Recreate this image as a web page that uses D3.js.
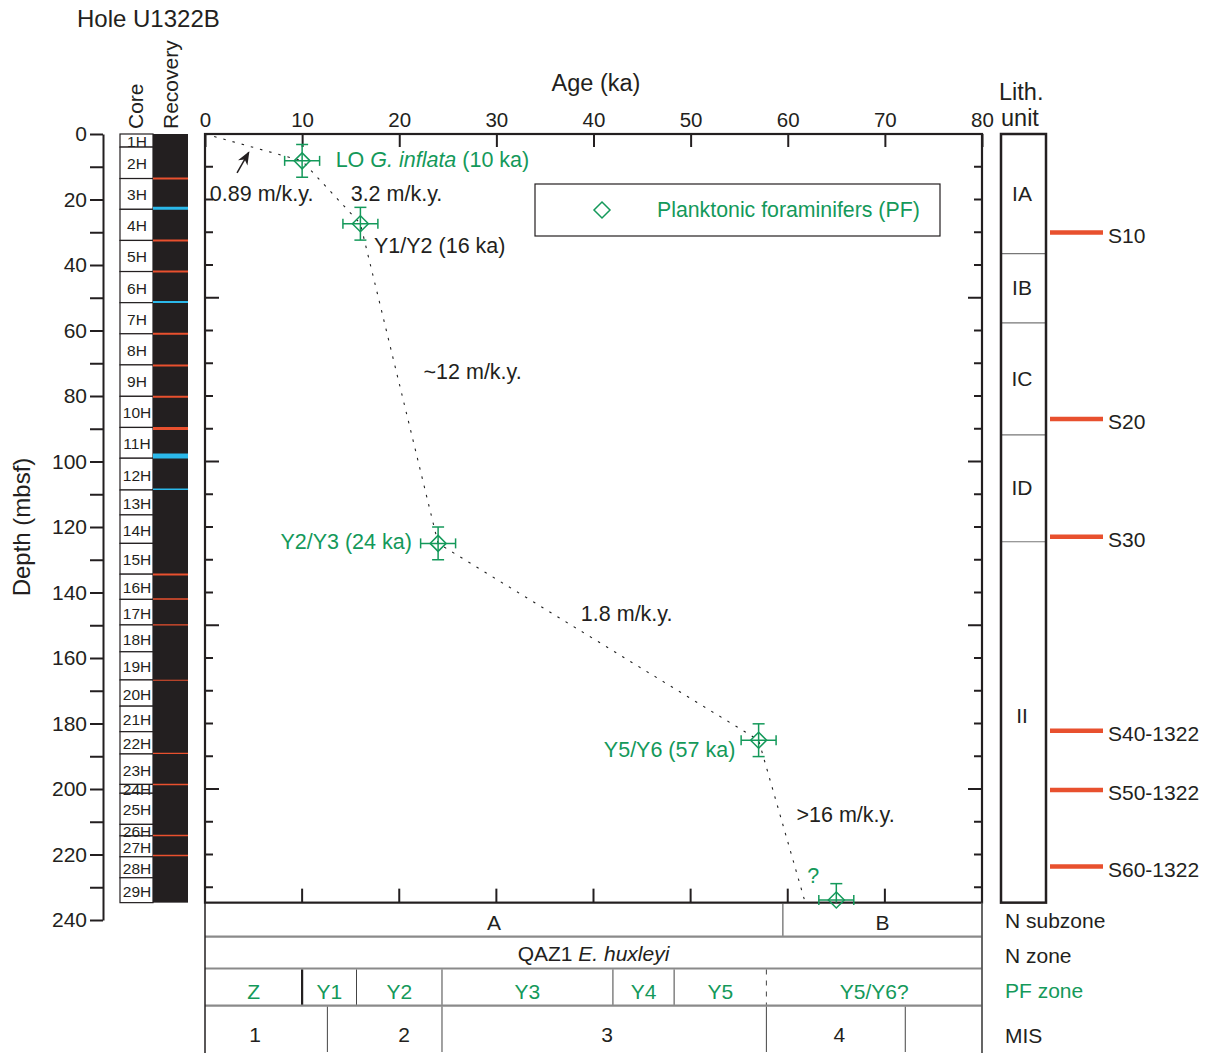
<!DOCTYPE html>
<html lang="en">
<head>
<meta charset="utf-8">
<title>Hole U1322B age-depth</title>
<style>
  body { margin: 0; background: #fff; }
  svg text { font-family: "Liberation Sans", Arial, Helvetica, sans-serif; fill: #231f20; }
</style>
</head>
<body>
<svg id="chart" width="1206" height="1053"></svg>

<script src="https://d3js.org/d3.v7.min.js"></script>
<script>
  // cores (mbsf)
  var coreNames = ["1H","2H","3H","4H","5H","6H","7H","8H","9H","10H","11H","12H","13H","14H","15H",
                   "16H","17H","18H","19H","20H","21H","22H","23H","24H","25H","26H","27H","28H","29H"];
  var coreBottoms = [4.0, 13.6, 23.0, 32.5, 42.0, 51.5, 61.0, 70.5, 80.1, 89.6, 99.0, 108.7, 116.3, 125.0, 134.4,
                     142.1, 149.9, 158.1, 166.7, 174.7, 182.5, 189.3, 198.6, 201.3, 210.8, 214.3, 220.7, 227.1, 234.7];

  // coloured marks on the recovery column
  var orangeMarks = [13.6, 32.5, 42.0, 61.0, 70.7, 80.2, 89.9, 134.5, 142.0, 149.9, 166.8, 189.1, 198.6, 214.2, 220.3];
  var orangeWidth = [2, 2, 2, 2, 2, 2, 3, 2, 1.5, 1.2, 1.2, 1.2, 1.5, 1.5, 1.5];
  var cyanMarks = [22.7, 51.3, 98.3, 108.5];
  var cyanWidth = [3, 2, 5, 1.5];

  // planktonic foraminifer datums
  var pfAge = [10, 16, 24, 57, 65];
  var pfDepth = [8.2, 27.4, 125.0, 185.1, 233.9];
  var pfAgeErr = [1.8, 1.8, 1.8, 1.8, 1.8];
  var pfDepthErr = [5, 5, 5, 5, 5];

  // age model line
  var modelAge = [0, 10, 16, 24, 57, 61.8];
  var modelDepth = [0, 8.2, 27.4, 125.0, 185.1, 234.7];

  // lithologic units
  var lithNames = ["IA", "IB", "IC", "ID", "II"];
  var lithBounds = [0, 36.5, 57.7, 91.9, 124.5, 234.7];

  // seismic reflectors
  var reflNames = ["S10", "S20", "S30", "S40-1322", "S50-1322", "S60-1322"];
  var reflDepth = [30.1, 87.0, 123.0, 182.2, 200.3, 223.7];

  // zone table (ka)
  var nSubNames = ["A", "B"];
  var nSubBounds = [0, 59.5, 80];
  var pfZoneNames = ["Z", "Y1", "Y2", "Y3", "Y4", "Y5", "Y5/Y6?"];
  var pfZoneBounds = [0, 10, 15.6, 24.4, 42.0, 48.3, 57.8, 80];
  var misNames = ["1", "2", "3", "4"];
  var misLabelAge = [5.15, 20.5, 41.4, 65.3];
  var misBounds = [12.6, 24.4, 57.8, 72.1];

  var green = "#14995a";
  var red = "#e8502e";
  var cyan = "#2bb8ea";
  var ink = "#231f20";
  var fs = 21;

  var svg = d3.select("#chart");

  var x = d3.scaleLinear().domain([0, 80]).range([205, 982]);
  var y = d3.scaleLinear().domain([0, 240]).range([134, 920]);
  var plotBottom = y(234.7);

  // titles
  svg.append("text").attr("x", 77).attr("y", 27).attr("font-size", 24).text("Hole U1322B");
  svg.append("text").attr("x", 596).attr("y", 91).attr("text-anchor", "middle").attr("font-size", 23.5).text("Age (ka)");
  svg.append("text").attr("transform", "translate(30,527) rotate(-90)").attr("text-anchor", "middle")
      .attr("font-size", 24).text("Depth (mbsf)");
  svg.append("text").attr("transform", "translate(143,129) rotate(-90)").attr("font-size", fs).text("Core");
  svg.append("text").attr("transform", "translate(178,129) rotate(-90)").attr("font-size", fs).text("Recovery");
  svg.append("text").attr("x", 999).attr("y", 100).attr("font-size", 23.5).text("Lith.");
  svg.append("text").attr("x", 1001).attr("y", 126).attr("font-size", 23.5).text("unit");

  // depth axis
  var depthAxis = svg.append("g")
      .attr("transform", "translate(103,0)")
      .call(d3.axisLeft(y).tickValues(d3.range(0, 241, 10)).tickSize(13).tickSizeOuter(0).tickPadding(3)
            .tickFormat(d => d % 20 === 0 ? d : ""));
  depthAxis.selectAll("path, line").attr("stroke", ink).attr("stroke-width", 2);
  depthAxis.selectAll("text").attr("font-size", fs).attr("fill", ink).style("font-family", null);

  // core column
  var coreTops = [0].concat(coreBottoms.slice(0, -1));
  var cores = svg.append("g");
  cores.selectAll("rect").data(coreNames).join("rect")
      .attr("x", 120).attr("width", 33)
      .attr("y", (d, i) => y(coreTops[i]))
      .attr("height", (d, i) => y(coreBottoms[i]) - y(coreTops[i]))
      .attr("fill", "#fff").attr("stroke", ink).attr("stroke-width", 1.2);
  cores.selectAll("text").data(coreNames).join("text")
      .attr("x", 137).attr("text-anchor", "middle")
      .attr("y", (d, i) => (y(coreTops[i]) + y(coreBottoms[i])) / 2 + 6.5)
      .attr("font-size", 15.5).text(d => d);

  // recovery column
  svg.append("rect").attr("x", 153).attr("width", 35)
      .attr("y", y(0)).attr("height", plotBottom - y(0)).attr("fill", ink);
  svg.append("g").selectAll("line").data(orangeMarks).join("line")
      .attr("x1", 153).attr("x2", 188).attr("y1", d => y(d)).attr("y2", d => y(d))
      .attr("stroke", red).attr("stroke-width", (d, i) => orangeWidth[i]);
  svg.append("g").selectAll("line").data(cyanMarks).join("line")
      .attr("x1", 153).attr("x2", 188).attr("y1", d => y(d)).attr("y2", d => y(d))
      .attr("stroke", cyan).attr("stroke-width", (d, i) => cyanWidth[i]);

  // plot frame
  var plot = svg.append("g");
  var ageTicks = d3.range(0, 81, 10);
  var topAxis = plot.append("g").attr("transform", "translate(0," + y(0) + ")")
      .call(d3.axisTop(x).tickValues(ageTicks).tickSize(-13).tickSizeOuter(0).tickPadding(7));
  topAxis.select(".domain").remove();
  topAxis.selectAll("line").attr("stroke", ink).attr("stroke-width", 2);
  topAxis.selectAll("text").attr("font-size", 20.5).attr("fill", ink).style("font-family", null);

  plot.selectAll(".btick").data(ageTicks.slice(1, -1)).join("line").attr("class", "btick")
      .attr("x1", d => x(d)).attr("x2", d => x(d))
      .attr("y1", plotBottom).attr("y2", plotBottom - 14)
      .attr("stroke", ink).attr("stroke-width", 2);

  var edgeTicks = d3.range(10, 231, 10);
  plot.selectAll(".ltick").data(edgeTicks).join("line").attr("class", "ltick")
      .attr("x1", x(0)).attr("x2", d => x(0) + (d % 50 === 0 ? 14 : 8))
      .attr("y1", d => y(d)).attr("y2", d => y(d))
      .attr("stroke", ink).attr("stroke-width", 2);
  plot.selectAll(".rtick").data(edgeTicks).join("line").attr("class", "rtick")
      .attr("x1", x(80)).attr("x2", d => x(80) - (d % 50 === 0 ? 14 : 8))
      .attr("y1", d => y(d)).attr("y2", d => y(d))
      .attr("stroke", ink).attr("stroke-width", 2);

  plot.append("rect").attr("x", x(0)).attr("y", y(0))
      .attr("width", x(80) - x(0)).attr("height", plotBottom - y(0))
      .attr("fill", "none").attr("stroke", ink).attr("stroke-width", 2.2);

  // age model
  var model = d3.line().x(d => x(d[0])).y(d => y(d[1]));
  plot.append("path")
      .attr("d", model(d3.zip(modelAge, modelDepth)))
      .attr("fill", "none").attr("stroke", "#222").attr("stroke-width", 1.1)
      .attr("stroke-dasharray", "2.5,7");

  // arrow to first segment
  svg.append("defs").append("marker").attr("id", "head")
      .attr("viewBox", "0 0 10 10").attr("refX", 9).attr("refY", 5)
      .attr("markerWidth", 9).attr("markerHeight", 9).attr("orient", "auto")
      .append("path").attr("d", "M0,1L10,5L0,9L3,5Z").attr("fill", ink);
  svg.append("line")
      .attr("x1", x(3.3)).attr("y1", y(11.9)).attr("x2", x(4.5)).attr("y2", y(5.6))
      .attr("stroke", ink).attr("stroke-width", 1.5).attr("marker-end", "url(#head)");

  // datums with error bars
  var diamond = "M0,-8L8,0L0,8L-8,0Z";
  var pts = plot.selectAll(".pt").data(pfAge).join("g").attr("class", "pt")
      .attr("stroke", green).attr("stroke-width", 1.5).attr("fill", "none");
  pts.append("line")
      .attr("x1", (d, i) => x(d - pfAgeErr[i])).attr("x2", (d, i) => x(d + pfAgeErr[i]))
      .attr("y1", (d, i) => y(pfDepth[i])).attr("y2", (d, i) => y(pfDepth[i]));
  pts.append("line")
      .attr("x1", d => x(d)).attr("x2", d => x(d))
      .attr("y1", (d, i) => y(pfDepth[i] - pfDepthErr[i]))
      .attr("y2", (d, i) => Math.min(y(pfDepth[i] + pfDepthErr[i]), plotBottom));
  pts.each(function (d, i) {
    var g = d3.select(this);
    var cx = x(d), cy = y(pfDepth[i]);
    [x(d - pfAgeErr[i]), x(d + pfAgeErr[i])].forEach(function (ex) {
      g.append("line").attr("x1", ex).attr("x2", ex).attr("y1", cy - 5).attr("y2", cy + 5);
    });
    [y(pfDepth[i] - pfDepthErr[i]), y(pfDepth[i] + pfDepthErr[i])].forEach(function (ey) {
      if (ey <= plotBottom) g.append("line").attr("x1", cx - 6).attr("x2", cx + 6).attr("y1", ey).attr("y2", ey);
    });
    g.append("path").attr("d", diamond).attr("transform", "translate(" + cx + "," + cy + ")");
  });

  // annotations
  function label(age, depth, str, color, anchor) {
    return svg.append("text").attr("x", x(age)).attr("y", y(depth))
        .attr("font-size", 21.5).attr("text-anchor", anchor || "start")
        .style("fill", color || ink).text(str);
  }
  var lo = svg.append("text").attr("x", x(13.45)).attr("y", y(10.2)).attr("font-size", 21.5).style("fill", green);
  lo.append("tspan").style("fill", green).text("LO ");
  lo.append("tspan").style("fill", green).attr("font-style", "italic").text("G. inflata");
  lo.append("tspan").style("fill", green).text(" (10 ka)");
  label(0.5, 20.6, "0.89 m/k.y.");
  label(15.0, 20.6, "3.2 m/k.y.");
  label(17.4, 36.3, "Y1/Y2 (16 ka)");
  label(22.5, 74.8, "~12 m/k.y.");
  label(21.3, 126.8, "Y2/Y3 (24 ka)", green, "end");
  label(38.7, 148.8, "1.8 m/k.y.");
  label(54.6, 190.3, "Y5/Y6 (57 ka)", green, "end");
  label(60.9, 210.2, ">16 m/k.y.");
  label(62.0, 228.6, "?", green);

  // legend
  svg.append("rect").attr("x", 535).attr("y", 184).attr("width", 405).attr("height", 52)
      .attr("fill", "#fff").attr("stroke", ink).attr("stroke-width", 1.2);
  svg.append("path").attr("d", diamond).attr("transform", "translate(602,210)")
      .attr("fill", "none").attr("stroke", green).attr("stroke-width", 1.5);
  svg.append("text").attr("x", 657).attr("y", 217).attr("font-size", 21.3).style("fill", green)
      .text("Planktonic foraminifers (PF)");

  // lithologic units
  var lith = svg.append("g");
  lith.selectAll("line").data(lithBounds.slice(1, -1)).join("line")
      .attr("x1", 1001).attr("x2", 1046).attr("y1", d => y(d)).attr("y2", d => y(d))
      .attr("stroke", "#777").attr("stroke-width", 1.2);
  lith.append("rect").attr("x", 1001).attr("y", y(0)).attr("width", 45).attr("height", plotBottom - y(0))
      .attr("fill", "none").attr("stroke", ink).attr("stroke-width", 2.5);
  lith.selectAll("text").data(lithNames).join("text")
      .attr("x", 1022).attr("text-anchor", "middle")
      .attr("y", (d, i) => (y(lithBounds[i]) + y(lithBounds[i + 1])) / 2 + 7 - (d === "II" ? 6 : 0))
      .attr("font-size", fs).text(d => d);

  // reflectors
  var refl = svg.append("g");
  refl.selectAll("line").data(reflDepth).join("line")
      .attr("x1", 1050).attr("x2", 1103).attr("y1", d => y(d)).attr("y2", d => y(d))
      .attr("stroke", red).attr("stroke-width", 4.5);
  refl.selectAll("text").data(reflNames).join("text")
      .attr("x", 1108).attr("y", (d, i) => y(reflDepth[i]) + 10)
      .attr("font-size", fs).text(d => d);

  // zone table
  var rows = [plotBottom, 936.7, 968.5, 1005.7, 1053];
  var table = svg.append("g");
  table.selectAll(".sep").data(rows.slice(1, 4)).join("line").attr("class", "sep")
      .attr("x1", x(0)).attr("x2", x(80)).attr("y1", d => d).attr("y2", d => d)
      .attr("stroke", "#8a8a8a").attr("stroke-width", 2.2);
  table.append("line").attr("x1", x(0)).attr("x2", x(0)).attr("y1", rows[0]).attr("y2", rows[4])
      .attr("stroke", ink).attr("stroke-width", 1.5);
  table.append("line").attr("x1", x(80)).attr("x2", x(80)).attr("y1", rows[0]).attr("y2", rows[4])
      .attr("stroke", "#555").attr("stroke-width", 1.8);

  function cellLines(bounds, r) {
    table.append("g").selectAll("line").data(bounds).join("line")
        .attr("x1", d => x(d)).attr("x2", d => x(d))
        .attr("y1", rows[r] + 1).attr("y2", rows[r + 1] - 1)
        .attr("stroke", "#444").attr("stroke-width", 1);
  }
  function cellText(names, bounds, r, color) {
    table.append("g").selectAll("text").data(names).join("text")
        .attr("x", (d, i) => (x(bounds[i]) + x(bounds[i + 1])) / 2)
        .attr("y", rows[r + 1] - 7).attr("text-anchor", "middle")
        .attr("font-size", fs).style("fill", color || ink).text(d => d);
  }

  cellLines(nSubBounds.slice(1, -1), 0);
  cellText(nSubNames, nSubBounds, 0);

  var nz = table.append("text").attr("x", (x(0) + x(80)) / 2).attr("y", rows[2] - 8)
      .attr("text-anchor", "middle").attr("font-size", fs);
  nz.append("tspan").text("QAZ1 ");
  nz.append("tspan").attr("font-style", "italic").text("E. huxleyi");

  var pfInner = pfZoneBounds.slice(1, -1);
  table.append("g").selectAll("line").data(pfInner).join("line")
      .attr("x1", d => x(d)).attr("x2", d => x(d))
      .attr("y1", rows[2] + 1).attr("y2", rows[3] - 1)
      .attr("stroke", (d, i) => i === 0 ? ink : "#444")
      .attr("stroke-width", (d, i) => i === 0 ? 2.2 : 1)
      .attr("stroke-dasharray", (d, i) => i === pfInner.length - 1 ? "5,6" : null);
  cellText(pfZoneNames, pfZoneBounds, 2, green);

  cellLines(misBounds, 3);
  table.append("g").selectAll("text").data(misNames).join("text")
      .attr("x", (d, i) => x(misLabelAge[i])).attr("y", 1042).attr("text-anchor", "middle")
      .attr("font-size", fs).text(d => d);

  // row titles
  var rowTitles = ["N subzone", "N zone", "PF zone", "MIS"];
  var rowBase = [928, 963, 998, 1043];
  svg.append("g").selectAll("text").data(rowTitles).join("text")
      .attr("x", 1005).attr("y", (d, i) => rowBase[i]).attr("font-size", fs)
      .style("fill", d => d === "PF zone" ? green : ink).text(d => d);
</script>
</body>
</html>
